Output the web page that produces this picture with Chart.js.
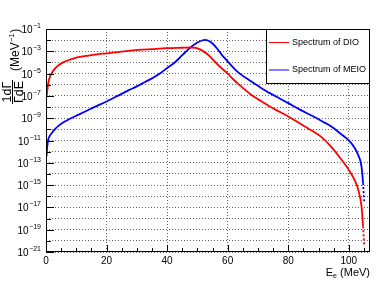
<!DOCTYPE html>
<html>
<head>
<meta charset="utf-8">
<script src="https://cdn.jsdelivr.net/npm/chart.js@4"></script>
<style>
  html, body { margin: 0; padding: 0; background: #fff; }
  #wrap { width: 390px; height: 281px; position: relative; }
</style>
</head>
<body>
<div id="wrap"><canvas id="c" width="390" height="281"></canvas></div>
<script>
// ---- data ----
const E_DIO = [0.2, 0.4, 0.7, 1.2, 1.8, 2.8, 4, 5, 6.2, 8, 10.6, 14, 17, 20, 25, 30.5, 35, 40, 45, 48, 49.5, 51, 53, 54, 55.5, 57.3, 60, 62, 64, 67.3, 70.6, 73.9, 77.3, 80, 84, 88, 91, 94, 97, 100.4, 102, 103.1, 104.2, 104.7, 105.1];
const DIO = [7.94e-8, 2.51e-7, 1.26e-6, 4.47e-6, 1.0e-5, 2.51e-5, 5.25e-5, 7.94e-5, 1.20e-4, 1.82e-4, 2.95e-4, 4.17e-4, 5.37e-4, 6.61e-4, 9.55e-4, 1.32e-3, 1.58e-3, 1.91e-3, 2.09e-3, 2.19e-3, 2.0e-3, 1.41e-3, 6.31e-4, 3.63e-4, 1.41e-4, 4.47e-5, 1.0e-5, 2.82e-6, 8.91e-7, 1.58e-7, 3.98e-8, 1.12e-8, 3.55e-9, 1.41e-9, 3.16e-10, 7.08e-11, 2.0e-11, 3.16e-12, 3.16e-13, 1.58e-14, 2.51e-15, 3.98e-16, 1.26e-17, 2.0e-19, 3.16e-21];

const E_MEIO = [0.2, 0.3, 0.5, 0.7, 1.2, 2, 2.9, 4.5, 6.2, 8.4, 10.6, 13.3, 16.1, 20, 24, 27.2, 30, 32.7, 35.5, 38.2, 40, 42.6, 45, 47.4, 50, 51.5, 52.5, 53.5, 55, 56.5, 58, 60, 62, 64, 67.3, 70.6, 73.9, 77.3, 80, 84, 88, 91, 94, 97.1, 100.4, 102, 103.1, 104.2, 104.7, 105.1];
const MEIO = [3.98e-13, 1.26e-12, 4.47e-12, 1.12e-11, 2.51e-11, 5.01e-11, 1.0e-10, 2.51e-10, 5.01e-10, 1.05e-9, 2.0e-9, 4.47e-9, 1.05e-8, 3.16e-8, 1.12e-7, 3.16e-7, 7.08e-7, 1.74e-6, 4.47e-6, 1.35e-5, 3.16e-5, 1.05e-4, 4.47e-4, 1.86e-3, 6.03e-3, 9.33e-3, 1.05e-2, 9.33e-3, 5.01e-3, 1.78e-3, 5.01e-4, 1.26e-4, 3.16e-5, 1.0e-5, 2.40e-6, 6.31e-7, 1.78e-7, 5.62e-8, 2.24e-8, 5.62e-9, 1.58e-9, 5.62e-10, 2.0e-10, 4.47e-11, 7.94e-12, 2.0e-12, 5.01e-13, 4.47e-14, 1.45e-15, 2.51e-17];

const SERIES_NAMES = ["Spectrum of DIO", "Spectrum of MEIO"];
const X_TICKS = [0, 20, 40, 60, 80, 100];
const X_MINOR = [0, 5, 10, 15, 20, 25, 30, 35, 40, 45, 50, 55, 60, 65, 70, 75, 80, 85, 90, 95, 100, 105];
const Y_DECADES = [1e-21, 1e-20, 1e-19, 1e-18, 1e-17, 1e-16, 1e-15, 1e-14, 1e-13, 1e-12, 1e-11, 1e-10, 1e-9, 1e-8, 1e-7, 1e-6, 1e-5, 1e-4, 1e-3, 1e-2, 1e-1];
const Y_LABEL_EXPS = [-21, -19, -17, -15, -13, -11, -9, -7, -5, -3, -1];
const X_MIN = 0, X_MAX = 107, Y_MIN = 1e-21, Y_MAX = 1e-1;

const FONT = '"Liberation Sans", Arial, Helvetica, sans-serif';

function pts(xs, ys) { return xs.map((x, i) => ({ x: x, y: ys[i] })); }

const tailDash = ctx => (ctx.p0.parsed.x >= 104.6 ? [2, 2] : undefined);

const rootPlugin = {
  id: 'rootStyle',
  afterDatasetsDraw(chart) {
    const ctx = chart.ctx, a = chart.chartArea;
    const xs = chart.scales.x, ys = chart.scales.y;
    ctx.save();
    // legend box
    const lx = 266, ly = a.top, lw = a.right - 266, lh = 55;
    ctx.fillStyle = '#fff';
    ctx.fillRect(lx, ly, lw, lh);
    ctx.strokeStyle = '#000'; ctx.lineWidth = 1;
    ctx.strokeRect(lx + 0.5, ly + 0.5, lw - 1, lh - 1);
    const cols = ['#ff0000', '#0000ff'];
    const rows = [ly + 13.5, ly + 41];
    ctx.font = '9px ' + FONT;
    ctx.textBaseline = 'middle';
    ctx.textAlign = 'left';
    for (let i = 0; i < 2; i++) {
      ctx.strokeStyle = cols[i]; ctx.lineWidth = 1;
      ctx.beginPath(); ctx.moveTo(269, rows[i]); ctx.lineTo(289, rows[i]); ctx.stroke();
      ctx.fillStyle = '#000';
      ctx.fillText(SERIES_NAMES[i], 292, rows[i]);
    }
    // frame
    ctx.strokeStyle = '#000'; ctx.lineWidth = 1;
    ctx.strokeRect(Math.round(a.left) + 0.5, Math.round(a.top) + 0.5, Math.round(a.right - a.left) - 1, Math.round(a.bottom - a.top) - 1);
    // x ticks (inside)
    ctx.beginPath();
    X_MINOR.forEach(v => {
      const px = Math.round(xs.getPixelForValue(v)) + 0.5;
      const len = X_TICKS.includes(v) ? 7 : 4;
      ctx.moveTo(px, a.bottom); ctx.lineTo(px, a.bottom - len);
    });
    // y ticks (inside)
    Y_DECADES.forEach(v => {
      const py = Math.round(ys.getPixelForValue(v)) + 0.5;
      const exp = Math.round(Math.log10(v));
      const len = Y_LABEL_EXPS.includes(exp) ? 8 : 5;
      ctx.moveTo(a.left, py); ctx.lineTo(a.left + len, py);
    });
    ctx.stroke();
    // y labels with superscript
    ctx.fillStyle = '#000';
    ctx.textBaseline = 'alphabetic';
    Y_LABEL_EXPS.forEach(e => {
      const py = ys.getPixelForValue(Math.pow(10, e));
      const exTxt = '\u2212' + Math.abs(e);
      ctx.font = '7px ' + FONT;
      const ew = ctx.measureText(exTxt).width;
      const right = 41;
      ctx.textAlign = 'right';
      ctx.fillText(exTxt, right, py - 1);
      ctx.font = '10px ' + FONT;
      ctx.fillText('10', right - ew - 0.5, py + 4);
    });
    // x title: E_e (MeV)
    ctx.textAlign = 'left';
    ctx.font = '11px ' + FONT;
    const t2 = ' (MeV)';
    const w2 = ctx.measureText(t2).width;
    ctx.font = '7px ' + FONT;
    const ws = ctx.measureText('e').width;
    ctx.font = '11px ' + FONT;
    const wE = ctx.measureText('E').width;
    const xEnd = a.right;
    const x0 = xEnd - w2 - ws - wE;
    const by = 275.5;
    ctx.fillText('E', x0, by);
    ctx.font = '7px ' + FONT;
    ctx.fillText('e', x0 + wE, by + 2);
    ctx.font = '11px ' + FONT;
    ctx.fillText(t2, x0 + wE + ws, by);
    // y title, rotated
    ctx.save();
    ctx.rotate(-Math.PI / 2);
    ctx.font = '12.5px ' + FONT;
    ctx.textAlign = 'center';
    const fc = -92;
    ctx.fillText('1d\u0393', fc, 10.5);
    ctx.fillText('\u0393dE', fc, 23);
    ctx.lineWidth = 1;
    ctx.beginPath(); ctx.moveTo(fc - 12, 12.5); ctx.lineTo(fc + 12, 12.5); ctx.stroke();
    ctx.textAlign = 'left';
    let u = -71;
    const b = 19;
    ctx.font = '12px ' + FONT;
    ctx.fillText('(MeV', u, b); u += ctx.measureText('(MeV').width;
    ctx.font = '7.5px ' + FONT;
    ctx.fillText('\u22121', u + 0.5, b - 5.5); u += ctx.measureText('\u22121').width + 1;
    ctx.font = '12px ' + FONT;
    ctx.fillText(')', u, b);
    ctx.restore();
    ctx.restore();
  }
};

new Chart(document.getElementById('c'), {
  type: 'line',
  data: {
    datasets: [
      { label: SERIES_NAMES[0], data: pts(E_DIO, DIO), borderColor: '#ff0000', borderWidth: 1.8, pointRadius: 0, cubicInterpolationMode: 'monotone', fill: false, segment: { borderDash: tailDash } },
      { label: SERIES_NAMES[1], data: pts(E_MEIO, MEIO), borderColor: '#0000ff', borderWidth: 1.8, pointRadius: 0, cubicInterpolationMode: 'monotone', fill: false, segment: { borderDash: tailDash } }
    ]
  },
  options: {
    responsive: false,
    animation: false,
    devicePixelRatio: 1,
    layout: { padding: { top: 29, right: 20, left: 0, bottom: 0 } },
    plugins: { legend: { display: false }, tooltip: { enabled: false } },
    scales: {
      x: {
        type: 'linear', min: X_MIN, max: X_MAX,
        afterBuildTicks: s => { s.ticks = X_TICKS.map(v => ({ value: v })); },
        afterFit: s => { s.height = 29; },
        grid: { display: true, drawTicks: false, color: '#666', lineWidth: 1 },
        border: { display: false, dash: [1, 2] },
        ticks: { padding: 3, color: '#000', font: { family: FONT, size: 10 }, maxRotation: 0, autoSkip: false, callback: v => String(v) }
      },
      y: {
        type: 'logarithmic', min: Y_MIN, max: Y_MAX,
        afterBuildTicks: s => { s.ticks = Y_DECADES.map(v => ({ value: v })); },
        afterFit: s => { s.width = 46; },
        grid: { display: true, drawTicks: false, color: '#666', lineWidth: 1 },
        border: { display: false, dash: [1, 2] },
        ticks: { display: false }
      }
    }
  },
  plugins: [rootPlugin]
});
</script>
</body>
</html>
